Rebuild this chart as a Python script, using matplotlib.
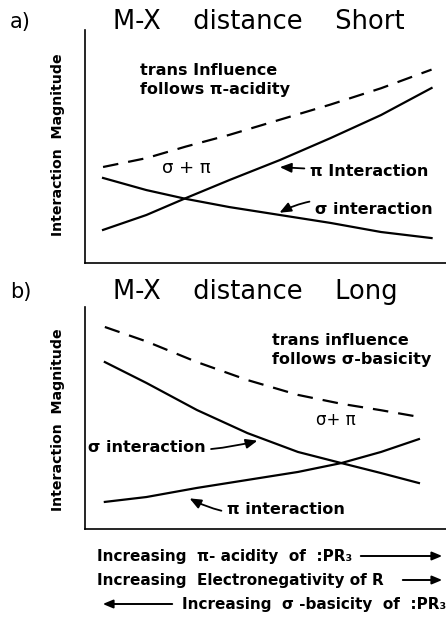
import matplotlib
matplotlib.use('Agg')
import matplotlib.pyplot as plt

# Qualitative interaction curves, x = ligand series position, y = magnitude (0-10)
x_short = [0.5, 1.7, 2.8, 4.0, 5.4, 6.8, 8.2, 9.6]
sum_short = [4.12, 4.50, 5.00, 5.50, 6.15, 6.80, 7.50, 8.30]
pi_short = [1.42, 2.06, 2.79, 3.56, 4.42, 5.36, 6.35, 7.51]
sigma_short = [3.65, 3.13, 2.75, 2.40, 2.06, 1.72, 1.33, 1.07]

x_long = [0.55, 1.7, 3.1, 4.5, 5.9, 7.1, 8.2, 9.25]
sum_long = [9.10, 8.45, 7.52, 6.71, 6.04, 5.64, 5.35, 5.05]
sigma_long = [7.52, 6.58, 5.36, 4.32, 3.47, 2.97, 2.52, 2.07]
pi_long = [1.22, 1.44, 1.85, 2.21, 2.57, 2.97, 3.47, 4.05]

titles = ['M-X    distance    Short', 'M-X    distance    Long']
panel_tags = ['a)', 'b)']
trend_lines = ['Increasing  π- acidity  of  :PR₃',
               'Increasing  Electronegativity of R',
               'Increasing  σ -basicity  of  :PR₃']

W, H = 446, 620
fig = plt.figure(figsize=(W / 100, H / 100), dpi=100)


def fx(px):
    return px / W


def fy(py):
    return 1 - py / H


def make_axes(top, bottom):
    ax = fig.add_axes([fx(85), fy(bottom), fx(W) - fx(85), fy(top) - fy(bottom)])
    ax.set_xlim(0, 10)
    ax.set_ylim(0, 10)
    ax.set_xticks([])
    ax.set_yticks([])
    ax.spines['top'].set_visible(False)
    ax.spines['right'].set_visible(False)
    ax.spines['left'].set_linewidth(1.2)
    ax.spines['bottom'].set_linewidth(1.2)
    return ax


lw = 1.6
dash = (0, (7, 4.5))
bold = dict(fontweight='bold', fontsize=11.5, color='black')
arrow = dict(arrowstyle='-|>,head_length=0.6,head_width=0.25', color='black', lw=1.3)

# panel a: short M-X distance
ax1 = make_axes(30, 263)
ax1.plot(x_short, sum_short, color='black', lw=lw, linestyle=dash)
ax1.plot(x_short, pi_short, color='black', lw=lw)
ax1.plot(x_short, sigma_short, color='black', lw=lw)
ax1.text(1.52, 8.6, 'trans Influence\nfollows π-acidity', ha='left', va='top',
         linespacing=1.35, **bold)
ax1.text(2.8, 4.08, 'σ + π', ha='center', va='center', fontsize=13)
ax1.annotate('π Interaction', xy=(5.32, 4.12), xytext=(6.23, 3.91),
             ha='left', va='center', arrowprops=arrow, **bold)
ax1.annotate('σ interaction', xy=(5.32, 2.10), xytext=(6.37, 2.30),
             ha='left', va='center',
             arrowprops=dict(arrow, connectionstyle='arc3,rad=0.25'), **bold)

# panel b: long M-X distance
ax2 = make_axes(307, 529)
ax2.plot(x_long, sum_long, color='black', lw=lw, linestyle=dash)
ax2.plot(x_long, sigma_long, color='black', lw=lw)
ax2.plot(x_long, pi_long, color='black', lw=lw)
ax2.text(5.18, 8.85, 'trans influence\nfollows σ-basicity', ha='left', va='top',
         linespacing=1.35, **bold)
ax2.text(6.95, 4.91, 'σ+ π', ha='center', va='center', fontsize=12)
ax2.annotate('σ interaction', xy=(4.85, 4.01), xytext=(0.08, 3.65),
             ha='left', va='center',
             arrowprops=dict(arrow, connectionstyle='arc3,rad=0.1'), **bold)
ax2.annotate('π interaction', xy=(2.83, 1.44), xytext=(3.93, 0.86),
             ha='left', va='center',
             arrowprops=dict(arrow, connectionstyle='arc3,rad=-0.2'), **bold)

# panel titles and y labels
for tag, title, ty, ly in zip(panel_tags, titles, [22, 292], [145, 420]):
    fig.text(fx(10), fy(ty), tag, ha='left', va='center', fontsize=15)
    fig.text(fx(113), fy(ty), title, ha='left', va='center', fontsize=18.5)
    fig.text(fx(58), fy(ly), 'Interaction  Magnitude', rotation=90, ha='center',
             va='center', fontweight='bold', fontsize=10.2)

# trend descriptions under the plots
small_bold = dict(bold, fontsize=11)
fig.text(fx(97), fy(556), trend_lines[0], ha='left', va='center', **small_bold)
fig.text(fx(97), fy(580), trend_lines[1], ha='left', va='center', **small_bold)
fig.text(fx(446), fy(605), trend_lines[2], ha='right', va='center', **small_bold)
for x0, x1, y in [(358, 445, 556), (400, 445, 580), (175, 100, 604)]:
    fig.add_artist(matplotlib.patches.FancyArrowPatch(
        (fx(x0), fy(y)), (fx(x1), fy(y)), transform=fig.transFigure,
        arrowstyle='-|>,head_length=6,head_width=2.5', color='black', lw=1.4))

fig.savefig('out.png', dpi=100)
